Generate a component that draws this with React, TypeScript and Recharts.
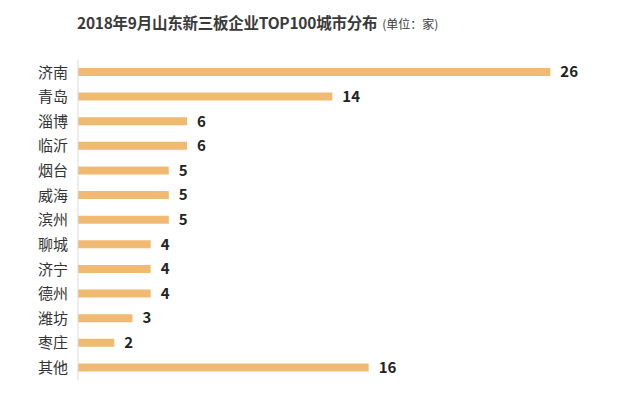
import { BarChart, Bar, XAxis, YAxis, LabelList } from 'recharts'

const cities = ['济南', '青岛', '淄博', '临沂', '烟台', '威海', '滨州', '聊城', '济宁', '德州', '潍坊', '枣庄', '其他']
const counts = [26, 14, 6, 6, 5, 5, 5, 4, 4, 4, 3, 2, 16]

const FONT = "'Microsoft YaHei', 'Noto Sans CJK SC', sans-serif"
const BAR = '#F1BA72'

const data = cities.map((name, i) => ({ name, value: counts[i] }))

export default function App() {
  return (
    <div style={{ position: 'relative', width: 640, height: 395, background: '#fff', fontFamily: FONT }}>
      <style>{'body{margin:0}'}</style>
      <div style={{ position: 'absolute', left: 77, top: 10, whiteSpace: 'nowrap', color: '#3a3a3a', lineHeight: '24px' }}>
        <span style={{ fontSize: 15.5, fontWeight: 700, letterSpacing: -0.25 }}>2018年9月山东新三板企业TOP100城市分布</span>
        <span style={{ fontSize: 12, marginLeft: 5 }}>(单位：家)</span>
      </div>
      <BarChart
        width={640}
        height={395}
        data={data}
        layout="vertical"
        margin={{ top: 60, right: 17, bottom: 15, left: 0 }}
        barSize={8}
      >
        <XAxis type="number" domain={[0, 30]} hide />
        <YAxis
          type="category"
          dataKey="name"
          width={78}
          interval={0}
          tickLine={false}
          tickSize={6}
          tickMargin={4}
          axisLine={{ stroke: '#d9d9d9' }}
          tick={{ fill: '#333', fontSize: 15, fontFamily: FONT }}
        />
        <Bar dataKey="value" fill={BAR} isAnimationActive={false}>
          <LabelList
            dataKey="value"
            position="right"
            offset={10}
            style={{ fill: '#222', fontSize: 15, fontWeight: 700, fontFamily: FONT }}
          />
        </Bar>
      </BarChart>
    </div>
  )
}
